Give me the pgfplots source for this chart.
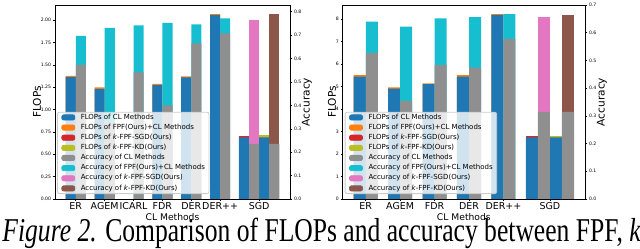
\documentclass[border=0pt]{standalone}
\usepackage{fontspec}
\setmainfont{DejaVu Sans}
\newfontfamily\capfont{Liberation Serif}
\usepackage{pgfplots}
\pgfplotsset{compat=1.18}
\definecolor{tblue}{HTML}{1F77B4}
\definecolor{torange}{HTML}{FF7F0E}
\definecolor{tred}{HTML}{D62728}
\definecolor{tolive}{HTML}{BCBD22}
\definecolor{tgray}{HTML}{8F8F8F}
\definecolor{tcyan}{HTML}{17BECF}
\definecolor{tpink}{HTML}{E377C2}
\definecolor{tbrown}{HTML}{8C564B}
\newcommand\fs[1]{\fontsize{#1}{#1}\selectfont}
\newcommand\legbox[1]{\addlegendimage{legend image code/.code={\fill[#1, fill opacity=1] (0pt,-1.3pt) rectangle (6.5pt,1.3pt);}}}
\pgfplotsset{
  panel/.style={scale only axis, height=97pt, anchor=south west, ymin=0,
    tick align=outside, major tick length=1pt,
    tick style={black, line width=0.3pt},
    axis line style={line width=0.4pt},
    axis on top, scaled y ticks=false, enlargelimits=false,
    /pgf/number format/assume math mode=true,
    yticklabel style={font=\fs{2.3}, inner sep=0.8pt},
    xticklabel style={font=\fs{4.75}, inner sep=0.5pt},
    ylabel style={font=\fs{5.3}, anchor=center},
    xlabel style={font=\fs{4.6}, at={(axis description cs:0.5,0)}, anchor=center, yshift=-8.8pt},
  },
  mybar/.style={ybar, bar width=0.35, bar shift=0pt, draw=none, fill=#1},
  myleg/.style={legend style={at={(0,0)}, anchor=south west, xshift=1pt, yshift=2.5pt,
    font=\fs{3.5}, fill=white, fill opacity=0.8, text opacity=1, draw=black!20,
    rounded corners=1pt, inner xsep=2pt, inner ysep=1pt, row sep=1.87pt, column sep=2.8pt,
    nodes={inner sep=0pt, text height=2.4pt, text depth=0.8pt}}, legend cell align=left},
}
\begin{document}
\begin{tikzpicture}
\path[use as bounding box] (0,0) rectangle (320pt,124pt);
% ================= LEFT PANEL =================
\begin{axis}[panel, at={(27.5pt,24.5pt)}, width=117.5pt,
  xmin=-0.72, xmax=7.42, ymax=2.17,
  ytick={0,0.25,0.5,0.75,1,1.25,1.5,1.75,2},
  yticklabel={\pgfmathprintnumber[fixed,fixed zerofill,precision=2]{\tick}},
  xtick={0,1,2,3,4,5,6.35}, xticklabels={ER,AGEM,ICARL,FDR,DER,DER++,SGD},
  ytick pos=left, xtick pos=bottom,
  ylabel={FLOPs}, ylabel style={at={(axis description cs:-0.077,0.5)}},
  xlabel={CL Methods}]
\addplot[mybar=torange] coordinates {(-0.175,1.378) (0.825,1.248) (2.825,1.287) (3.825,1.373) (4.825,2.068)};
\addplot[mybar=tred] coordinates {(5.825,0.707)};
\addplot[mybar=tolive] coordinates {(6.525,0.713)};
\addplot[mybar=tblue] coordinates {(-0.175,1.363) (0.825,1.232) (2.825,1.274) (3.825,1.360) (4.825,2.056) (5.825,0.689) (6.525,0.689)};
\node[anchor=south west, inner sep=0pt, font=\fs{2.3}] at (rel axis cs:0,1) [yshift=0.6pt] {1e15};
\end{axis}
\begin{axis}[panel, at={(27.5pt,24.5pt)}, width=117.5pt,
  xmin=-0.72, xmax=7.42, ymax=0.829,
  ytick={0,0.1,0.2,0.3,0.4,0.5,0.6,0.7,0.8},
  yticklabel={\pgfmathprintnumber[fixed,fixed zerofill,precision=1]{\tick}},
  xtick=\empty, ytick pos=right,
  ylabel={Accuracy}, ylabel style={at={(axis description cs:1.072,0.5)}},
  myleg]
\legbox{tblue}\addlegendentry{FLOPs of CL Methods}
\legbox{torange}\addlegendentry{FLOPs of FPF(Ours)+CL Methods}
\legbox{tred}\addlegendentry{FLOPs of \textit{k}-FPF-SGD(Ours)}
\legbox{tolive}\addlegendentry{FLOPs of \textit{k}-FPF-KD(Ours)}
\legbox{tgray}\addlegendentry{Accuracy of CL Methods}
\legbox{tcyan}\addlegendentry{Accuracy of FPF(Ours)+CL Methods}
\legbox{tpink}\addlegendentry{Accuracy of \textit{k}-FPF-SGD(Ours)}
\legbox{tbrown}\addlegendentry{Accuracy of \textit{k}-FPF-KD(Ours)}
\addplot[mybar=tcyan, forget plot] coordinates {(0.175,0.697) (1.175,0.731) (2.175,0.742) (3.175,0.753) (4.175,0.746) (5.175,0.772)};
\addplot[mybar=tpink, forget plot] coordinates {(6.175,0.765)};
\addplot[mybar=tbrown, forget plot] coordinates {(6.875,0.789)};
\addplot[mybar=tgray, forget plot] coordinates {(0.175,0.573) (1.175,0.33) (2.175,0.541) (3.175,0.400) (4.175,0.665) (5.175,0.708) (6.175,0.236) (6.875,0.236)};
\end{axis}
% ================= RIGHT PANEL =================
\begin{axis}[panel, at={(171.35pt,24.5pt)}, width=121.15pt,
  xmin=-0.67, xmax=6.37, ymax=8.62,
  ytick={0,1,2,3,4,5,6,7,8},
  xtick={0,1,2,3,4,5.35}, xticklabels={ER,AGEM,FDR,DER,DER++,SGD},
  ytick pos=left, xtick pos=bottom,
  ylabel={FLOPs}, ylabel style={at={(axis description cs:-0.044,0.5)}},
  xlabel={CL Methods}]
\addplot[mybar=torange] coordinates {(-0.175,5.50) (0.825,4.96) (1.825,5.14) (2.825,5.50) (3.825,8.21)};
\addplot[mybar=tred] coordinates {(4.825,2.81)};
\addplot[mybar=tolive] coordinates {(5.525,2.82)};
\addplot[mybar=tblue] coordinates {(-0.175,5.44) (0.825,4.90) (1.825,5.10) (2.825,5.44) (3.825,8.18) (4.825,2.74) (5.525,2.74)};
\node[anchor=south west, inner sep=0pt, font=\fs{2.3}] at (rel axis cs:0,1) [yshift=0.6pt] {1e15};
\end{axis}
\begin{axis}[panel, at={(171.35pt,24.5pt)}, width=121.15pt,
  xmin=-0.67, xmax=6.37, ymax=0.70,
  ytick={0,0.1,0.2,0.3,0.4,0.5,0.6,0.7},
  yticklabel={\pgfmathprintnumber[fixed,fixed zerofill,precision=1]{\tick}},
  xtick=\empty, ytick pos=right,
  ylabel={Accuracy}, ylabel style={at={(axis description cs:1.07,0.5)}},
  myleg]
\legbox{tblue}\addlegendentry{FLOPs of CL Methods}
\legbox{torange}\addlegendentry{FLOPs of FPF(Ours)+CL Methods}
\legbox{tred}\addlegendentry{FLOPs of \textit{k}-FPF-SGD(Ours)}
\legbox{tolive}\addlegendentry{FLOPs of \textit{k}-FPF-KD(Ours)}
\legbox{tgray}\addlegendentry{Accuracy of CL Methods}
\legbox{tcyan}\addlegendentry{Accuracy of FPF(Ours)+CL Methods}
\legbox{tpink}\addlegendentry{Accuracy of \textit{k}-FPF-SGD(Ours)}
\legbox{tbrown}\addlegendentry{Accuracy of \textit{k}-FPF-KD(Ours)}
\addplot[mybar=tcyan, forget plot] coordinates {(0.175,0.640) (1.175,0.622) (2.175,0.652) (3.175,0.656) (4.175,0.667)};
\addplot[mybar=tpink, forget plot] coordinates {(5.175,0.656)};
\addplot[mybar=tbrown, forget plot] coordinates {(5.875,0.663)};
\addplot[mybar=tgray, forget plot] coordinates {(0.175,0.526) (1.175,0.354) (2.175,0.483) (3.175,0.474) (4.175,0.577) (5.175,0.314) (5.875,0.314)};
\end{axis}
% caption
\node[anchor=base west, inner sep=0pt, font=\capfont\fs{12.8}] at (1pt,3.3pt)
  {\scalebox{1}[1.3]{\textit{Figure 2.} Comparison of FLOPs and accuracy between FPF, \textit{k}-}};
\end{tikzpicture}
\end{document}
